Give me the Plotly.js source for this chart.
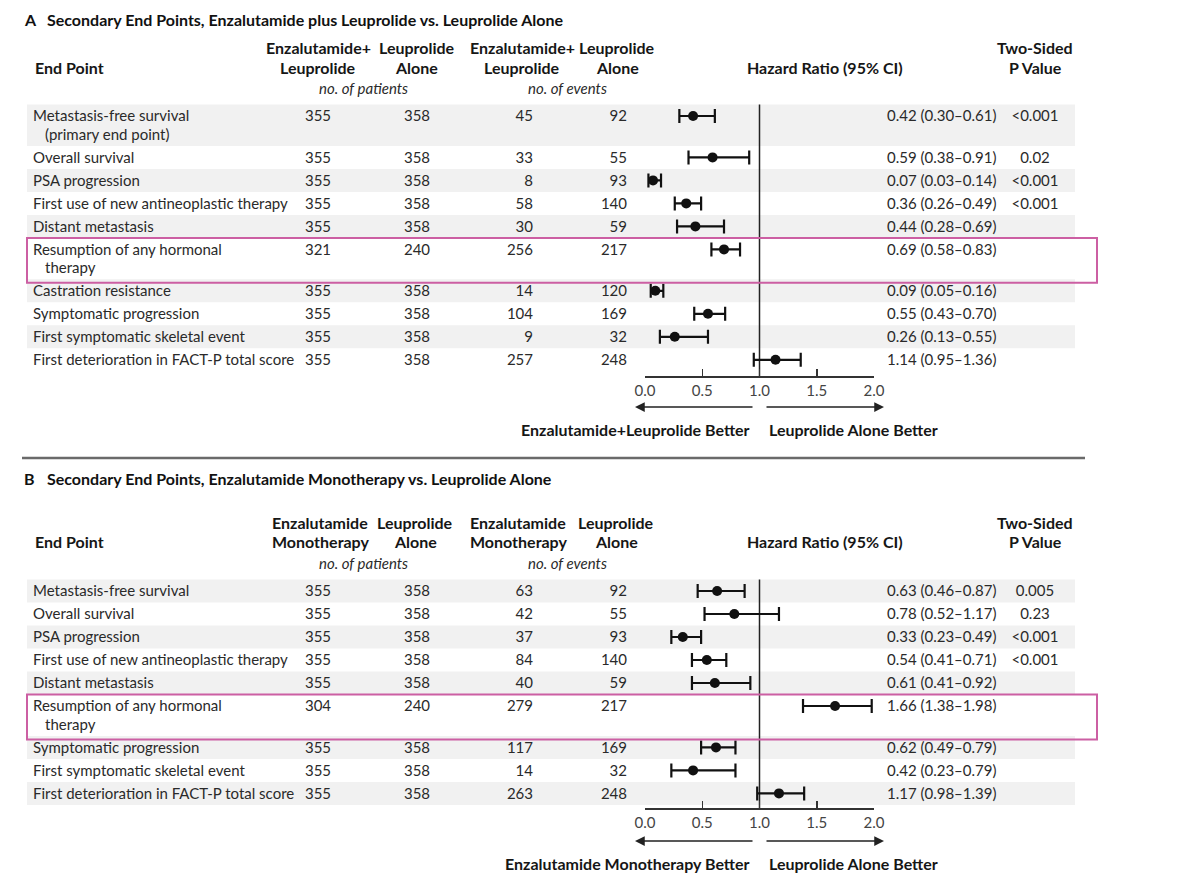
<!DOCTYPE html>
<html><head><meta charset="utf-8">
<script src="https://cdn.plot.ly/plotly-3.0.1.min.js"></script>
<style>html,body{margin:0;padding:0;background:#fff}</style>
</head><body><div id="chart" style="width:1200px;height:882px"></div>
<script>
// ---------- Panel A data ----------
const titleA = "Secondary End Points, Enzalutamide plus Leuprolide vs. Leuprolide Alone";
const colHeadA = [["Enzalutamide+","Leuprolide"],["Leuprolide","Alone"],["Enzalutamide+","Leuprolide"],["Leuprolide","Alone"]];
const endPointsA = ["Metastasis-free survival<br>(primary end point)","Overall survival","PSA progression","First use of new antineoplastic therapy","Distant metastasis","Resumption of any hormonal<br>therapy","Castration resistance","Symptomatic progression","First symptomatic skeletal event","First deterioration in FACT-P total score"];
const patientsTrtA = [355,355,355,355,355,321,355,355,355,355];
const patientsLeuA = [358,358,358,358,358,240,358,358,358,358];
const eventsTrtA = [45,33,8,58,30,256,14,104,9,257];
const eventsLeuA = [92,55,93,140,59,217,120,169,32,248];
const hrA = [0.42,0.59,0.07,0.36,0.44,0.69,0.09,0.55,0.26,1.14];
const loA = [0.30,0.38,0.03,0.26,0.28,0.58,0.05,0.43,0.13,0.95];
const hiA = [0.61,0.91,0.14,0.49,0.69,0.83,0.16,0.70,0.55,1.36];
const pA = ["&lt;0.001","0.02","&lt;0.001","&lt;0.001","","","","","",""];
const betterA = ["Enzalutamide+Leuprolide Better","Leuprolide Alone Better"];

// ---------- Panel B data ----------
const titleB = "Secondary End Points, Enzalutamide Monotherapy vs. Leuprolide Alone";
const colHeadB = [["Enzalutamide","Monotherapy"],["Leuprolide","Alone"],["Enzalutamide","Monotherapy"],["Leuprolide","Alone"]];
const endPointsB = ["Metastasis-free survival","Overall survival","PSA progression","First use of new antineoplastic therapy","Distant metastasis","Resumption of any hormonal<br>therapy","Symptomatic progression","First symptomatic skeletal event","First deterioration in FACT-P total score"];
const patientsTrtB = [355,355,355,355,355,304,355,355,355];
const patientsLeuB = [358,358,358,358,358,240,358,358,358];
const eventsTrtB = [63,42,37,84,40,279,117,14,263];
const eventsLeuB = [92,55,93,140,59,217,169,32,248];
const hrB = [0.63,0.78,0.33,0.54,0.61,1.66,0.62,0.42,1.17];
const loB = [0.46,0.52,0.23,0.41,0.41,1.38,0.49,0.23,0.98];
const hiB = [0.87,1.17,0.49,0.71,0.92,1.98,0.79,0.79,1.39];
const pB = ["0.005","0.23","&lt;0.001","&lt;0.001","","","","",""];
const betterB = ["Enzalutamide Monotherapy Better","Leuprolide Alone Better"];

const highlightLabel = "Resumption of any hormonal<br>therapy";
const tickVals = [0,0.5,1,1.5,2];
const tickText = ["0.0","0.5","1.0","1.5","2.0"];

// ---------- styling / geometry ----------
const W = 1200, H = 882;
const FONT = 'Lato, "Open Sans", sans-serif';
const TXT = '#2a2a2a';
const HEAD = '#161616';
const BODY_SIZE = 15, HEAD_SIZE = 16, TITLE_SIZE = 16;
const X0PX = 645, PXPER = 114.5;           // HR 0 at x=645px, 114.5 px per unit
const hrPx = v => X0PX + v * PXPER;
const pxHr = p => (p - X0PX) / PXPER;
const ROW = 23, EXTRA = 18.4, TEXT_DY = 1.5;

const traces = [], shapes = [], annotations = [];

function ann(text, xpx, ypx, anchor, opts) {
  annotations.push(Object.assign({
    text: text, xref: 'paper', yref: 'paper', x: xpx / W, y: 1 - ypx / H,
    xanchor: anchor, yanchor: 'middle', showarrow: false,
    font: {family: FONT, size: BODY_SIZE, color: TXT}
  }, opts || {}));
}
const hfont = {font: {family: FONT, size: HEAD_SIZE, color: HEAD}};

function panel(cfg) {
  const {letter, title, colHead, labels, pt, pl, et, el, hr, lo, hi, p, better, g} = cfg;
  // header
  ann('<b>' + letter + '</b>', 22, g.titleY, 'left', {font: {family: FONT, size: TITLE_SIZE, color: '#111'}});
  ann('<b>' + title + '</b>', 45, g.titleY, 'left', {font: {family: FONT, size: TITLE_SIZE, color: '#111'}});
  ann('<b>End Point</b>', 33, g.head2, 'left', hfont);
  colHead.forEach((h, i) => {
    ann('<b>' + h[0] + '</b>', g.hc[i], g.head1, 'center', hfont);
    ann('<b>' + h[1] + '</b>', g.hc[i], g.head2, 'center', hfont);
  });
  ann('<i>no. of patients</i>', 363, g.units, 'center');
  ann('<i>no. of events</i>', 567, g.units, 'center');
  ann('<b>Hazard Ratio (95% CI)</b>', 825, g.head2, 'center', hfont);
  ann('<b>Two-Sided</b>', 1035, g.head1, 'center', hfont);
  ann('<b>P Value</b>', 1035, g.head2, 'center', hfont);

  // row positions
  const ys = [], tops = [], bots = [];
  let y = g.firstRow;
  labels.forEach((lab) => {
    const extra = lab.split('<br>').length - 1;
    ys.push(y);
    tops.push(y - ROW / 2);
    y += ROW + EXTRA * extra;
    bots.push(y - ROW / 2);
  });
  const ty = ys.map(v => v + TEXT_DY);
  // shading bands & highlight
  labels.forEach((lab, i) => {
    if (i % 2 === 0) shapes.push({type: 'rect', xref: 'paper', yref: 'y', x0: 27 / W, x1: 1075 / W,
      y0: tops[i], y1: bots[i], fillcolor: '#f1f1f1', line: {width: 0}, layer: 'below'});
    if (lab === highlightLabel) shapes.push({type: 'rect', xref: 'paper', yref: 'y', x0: 27 / W, x1: 1097 / W,
      y0: tops[i], y1: bots[i] + 3.5, fillcolor: 'rgba(0,0,0,0)', line: {width: 2, color: '#cc5fa3'}, layer: 'above'});
  });
  // label text lines
  const l1x = [], l1y = [], l1t = [], l2x = [], l2y = [], l2t = [];
  labels.forEach((lab, i) => {
    lab.split('<br>').forEach((ln, k) => {
      if (k === 0) { l1x.push(33); l1y.push(ty[i]); l1t.push(ln); }
      else { l2x.push(45); l2y.push(ty[i] + EXTRA * k); l2t.push(ln); }
    });
  });
  const tf = {family: FONT, size: BODY_SIZE, color: TXT};
  const textTrace = (x, yv, t, pos) => ({type: 'scatter', mode: 'text', xaxis: 'x2', yaxis: 'y',
    x: x, y: yv, text: t, textposition: pos, textfont: tf, hoverinfo: 'skip', showlegend: false, cliponaxis: false});
  traces.push(textTrace(l1x, l1y, l1t, 'middle right'));
  traces.push(textTrace(l2x, l2y, l2t, 'middle right'));
  traces.push(textTrace(ys.map(() => 318), ty, pt.map(String), 'middle center'));
  traces.push(textTrace(ys.map(() => 417), ty, pl.map(String), 'middle center'));
  traces.push(textTrace(ys.map(() => 533), ty, et.map(String), 'middle left'));
  traces.push(textTrace(ys.map(() => 627), ty, el.map(String), 'middle left'));
  traces.push(textTrace(ys.map(() => 887), ty,
    hr.map((v, i) => v.toFixed(2) + ' (' + lo[i].toFixed(2) + '\u2013' + hi[i].toFixed(2) + ')'), 'middle right'));
  traces.push(textTrace(ys.map(() => 1035), ty, p, 'middle center'));

  // reference line at HR = 1
  shapes.push({type: 'line', xref: 'x', yref: 'y', x0: 1, x1: 1, y0: tops[0], y1: g.axis,
    line: {color: '#222', width: 1.5}, layer: 'below'});

  // forest points with CIs
  traces.push({type: 'scatter', mode: 'markers', xaxis: 'x', yaxis: 'y', x: hr, y: ys,
    marker: {size: 10, color: '#111'},
    error_x: {type: 'data', symmetric: false, array: hr.map((v, i) => hi[i] - v),
      arrayminus: hr.map((v, i) => v - lo[i]), thickness: 2.2, width: 7, color: '#111'},
    hoverinfo: 'skip', showlegend: false, cliponaxis: false});

  // arrows
  annotations.push({xref: 'x', yref: 'y', axref: 'x', ayref: 'y', x: pxHr(635), y: g.arrow,
    ax: pxHr(754), ay: g.arrow, text: '', showarrow: true, arrowhead: 2, arrowsize: 1.3, arrowwidth: 1.5, arrowcolor: '#222'});
  annotations.push({xref: 'x', yref: 'y', axref: 'x', ayref: 'y', x: pxHr(884), y: g.arrow,
    ax: pxHr(765), ay: g.arrow, text: '', showarrow: true, arrowhead: 2, arrowsize: 1.3, arrowwidth: 1.5, arrowcolor: '#222'});
  ann('<b>' + better[0] + '</b>', 752, g.better, 'right', hfont);
  ann('<b>' + better[1] + '</b>', 767, g.better, 'left', hfont);
}

panel({letter: 'A', title: titleA, colHead: colHeadA, labels: endPointsA, pt: patientsTrtA, pl: patientsLeuA,
  et: eventsTrtA, el: eventsLeuA, hr: hrA, lo: loA, hi: hiA, p: pA, better: betterA,
  g: {titleY: 20, head1: 48, head2: 67, units: 88, firstRow: 116, axis: 376, arrow: 407, better: 430,
      hc: [318, 417, 522, 617]}});
panel({letter: 'B', title: titleB, colHead: colHeadB, labels: endPointsB, pt: patientsTrtB, pl: patientsLeuB,
  et: eventsTrtB, el: eventsLeuB, hr: hrB, lo: loB, hi: hiB, p: pB, better: betterB,
  g: {titleY: 478, head1: 522, head2: 541, units: 563, firstRow: 591, axis: 808, arrow: 841, better: 863,
      hc: [320, 415, 518, 616]}});

// separator between panels
shapes.push({type: 'line', xref: 'paper', yref: 'y', x0: 22 / W, x1: 1085 / W, y0: 458, y1: 458,
  line: {color: '#6a6a6a', width: 2.5}});

// empty traces so the two HR tick axes get their own subplots
traces.push({type: 'scatter', mode: 'none', x: [], y: [], xaxis: 'x3', yaxis: 'y3', showlegend: false, hoverinfo: 'skip'});
traces.push({type: 'scatter', mode: 'none', x: [], y: [], xaxis: 'x4', yaxis: 'y4', showlegend: false, hoverinfo: 'skip'});

const tickAxis = (anchor) => ({domain: [X0PX / W, hrPx(2) / W], range: [0, 2], anchor: anchor, autorange: false,
  showline: true, linecolor: '#333', linewidth: 1.5, ticks: 'inside', ticklen: 7, tickwidth: 1.5, tickcolor: '#333',
  tickmode: 'array', tickvals: tickVals, ticktext: tickText, tickfont: {family: FONT, size: 15, color: '#444'},
  showgrid: false, zeroline: false, fixedrange: true});
const hidden = {visible: false, fixedrange: true, showgrid: false, zeroline: false};

const layout = {
  width: W, height: H, margin: {l: 0, r: 0, t: 0, b: 0},
  paper_bgcolor: '#fff', plot_bgcolor: 'rgba(0,0,0,0)', showlegend: false,
  font: {family: FONT, color: TXT},
  xaxis: Object.assign({}, hidden, {domain: [0, 1], range: [pxHr(0), pxHr(W)]}),
  xaxis2: Object.assign({}, hidden, {overlaying: 'x', range: [0, W]}),
  yaxis: Object.assign({}, hidden, {domain: [0, 1], range: [H, 0]}),
  xaxis3: tickAxis('y3'),
  yaxis3: Object.assign({}, hidden, {domain: [1 - 376 / H, 1 - 366 / H], anchor: 'x3', range: [0, 1]}),
  xaxis4: tickAxis('y4'),
  yaxis4: Object.assign({}, hidden, {domain: [1 - 808 / H, 1 - 798 / H], anchor: 'x4', range: [0, 1]}),
  shapes: shapes, annotations: annotations
};
Plotly.newPlot('chart', traces, layout, {displayModeBar: false, staticPlot: true});
</script></body></html>
